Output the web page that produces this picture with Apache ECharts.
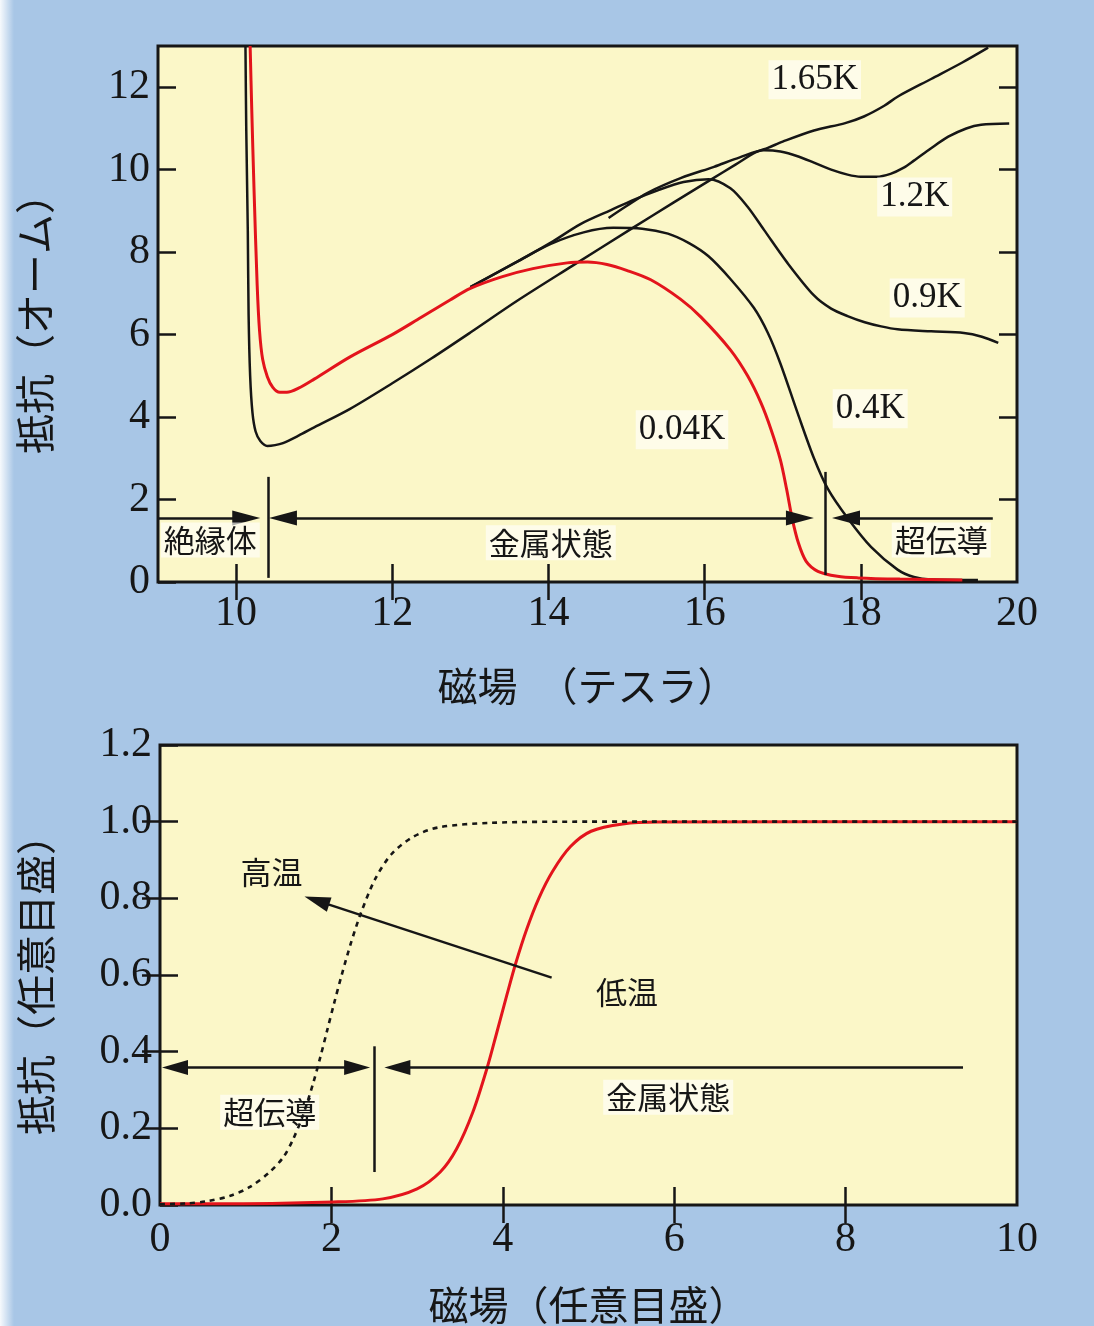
<!DOCTYPE html>
<html><head><meta charset="utf-8">
<script src="https://cdn.jsdelivr.net/npm/echarts@6/dist/echarts.min.js"></script>
<style>html,body{margin:0;padding:0;background:#a8c6e6;} #c{width:1094px;height:1326px;}</style>
</head><body><div id="c"></div>
<script>
// ---------- top chart (resistance vs field, Tesla) ----------
const topXTicks = [10, 12, 14, 16, 18, 20];
const topXInnerTicks = [10, 12, 14, 16, 18];
const topYTicks = [0, 2, 4, 6, 8, 10, 12];
const topYRightTicks = [2, 4, 6, 8, 10, 12];
const tempNames = ['0.04K', '0.4K', '0.9K', '1.2K', '1.65K'];

const r004K = [[10.18,13.0],[10.2,11.5],[10.23,9.5],[10.27,7.2],[10.3,6.1],[10.34,5.4],[10.4,4.98],[10.47,4.72],[10.56,4.6],[10.65,4.6],[10.8,4.7],[11.0,4.92],[11.46,5.46],[12.0,6.0],[12.32,6.36],[12.74,6.84],[13.0,7.12],[13.4,7.4],[13.8,7.6],[14.24,7.74],[14.5,7.76],[14.75,7.7],[15.0,7.56],[15.31,7.33],[15.69,6.86],[15.95,6.43],[16.33,5.63],[16.55,5.0],[16.72,4.35],[16.85,3.7],[16.97,2.96],[17.05,2.25],[17.12,1.55],[17.2,0.95],[17.3,0.5],[17.45,0.26],[17.7,0.14],[17.96,0.1],[18.5,0.07],[19.3,0.05]];
const r04K = [[13.0,7.15],[13.6,7.77],[14.03,8.2],[14.45,8.48],[14.83,8.59],[15.2,8.57],[15.53,8.45],[15.8,8.22],[16.05,7.9],[16.33,7.35],[16.63,6.65],[16.81,6.04],[16.97,5.3],[17.19,4.1],[17.4,3.0],[17.58,2.25],[17.83,1.55],[18.13,0.85],[18.47,0.3],[18.68,0.12],[18.9,0.06],[19.5,0.05]];
const r09K = [[13.0,7.15],[13.6,7.77],[14.03,8.23],[14.41,8.68],[14.8,9.02],[15.09,9.27],[15.4,9.5],[15.73,9.7],[16.05,9.77],[16.33,9.55],[16.55,9.1],[16.76,8.54],[17.06,7.74],[17.4,6.95],[17.62,6.63],[17.83,6.45],[18.05,6.3],[18.26,6.2],[18.47,6.13],[18.9,6.08],[19.32,6.04],[19.55,5.95],[19.76,5.8]];
const r12K = [[14.77,8.83],[15.0,9.12],[15.27,9.44],[15.7,9.8],[16.12,10.07],[16.45,10.3],[16.76,10.47],[16.97,10.44],[17.2,10.32],[17.4,10.17],[17.62,10.0],[17.83,9.88],[18.0,9.83],[18.2,9.83],[18.38,9.9],[18.55,10.05],[18.68,10.22],[18.9,10.52],[19.12,10.8],[19.35,11.0],[19.54,11.09],[19.9,11.12]];
const r165K = [[10.12,13.0],[10.13,11.0],[10.15,8.5],[10.16,6.5],[10.18,5.0],[10.21,4.1],[10.25,3.65],[10.31,3.42],[10.4,3.3],[10.5,3.32],[10.6,3.37],[10.8,3.55],[11.0,3.75],[11.46,4.2],[12.0,4.82],[12.5,5.42],[13.0,6.05],[13.6,6.82],[14.3,7.66],[15.09,8.6],[15.6,9.2],[16.08,9.76],[16.4,10.13],[16.65,10.42],[16.81,10.53],[17.0,10.68],[17.4,10.95],[17.8,11.13],[18.04,11.29],[18.3,11.55],[18.47,11.77],[18.9,12.2],[19.3,12.6],[19.63,12.96]];

// ---------- bottom chart (arbitrary units) ----------
const botXTicks = [0, 2, 4, 6, 8, 10];
const botYTicks = [0, 0.2, 0.4, 0.6, 0.8, 1.0, 1.2];
const highTemp = [[0,0.002],[0.3,0.004],[0.55,0.01],[0.82,0.024],[1.05,0.047],[1.28,0.086],[1.44,0.125],[1.55,0.17],[1.67,0.235],[1.79,0.32],[1.87,0.385],[1.95,0.455],[2.03,0.525],[2.12,0.6],[2.23,0.685],[2.35,0.765],[2.51,0.85],[2.7,0.915],[2.95,0.96],[3.25,0.985],[3.86,0.997],[5.0,1.0],[10.0,1.0]];
const lowTemp = [[0,0.003],[0.66,0.003],[2.02,0.008],[2.6,0.016],[3.0,0.042],[3.27,0.086],[3.46,0.146],[3.65,0.242],[3.82,0.36],[3.93,0.45],[4.05,0.55],[4.15,0.63],[4.28,0.72],[4.42,0.8],[4.58,0.87],[4.79,0.935],[5.03,0.975],[5.4,0.994],[5.81,0.999],[10.0,1.0]];

// ---------- styling ----------
const serif = "'Liberation Serif','DejaVu Serif',serif";
const cjk = "'Noto Sans CJK JP','Noto Sans CJK SC',sans-serif";
const ink = '#161616';
const red = '#e3141c';
const plotBg = '#fbf7c8';
const arrowPath = 'path://M5,0 L10,26 L0,26 Z';

function bottomAxis(grid, min, max, ticks, labels, name, gap, labelMargin) {
  return {
    type: 'value', gridIndex: grid, position: 'bottom', min: min, max: max,
    axisLine: {show: false}, splitLine: {show: false},
    axisTick: {show: true, inside: true, length: 18, customValues: ticks, lineStyle: {color: ink, width: 2.5}},
    axisLabel: {show: true, customValues: labels, fontFamily: serif, fontSize: 42, color: ink, margin: labelMargin},
    name: name, nameLocation: 'middle', nameGap: gap,
    nameTextStyle: {fontFamily: cjk, fontSize: 40, color: ink}
  };
}
function topAxis(grid, min, max, ticks) {
  return {
    type: 'value', gridIndex: grid, position: 'top', min: min, max: max,
    axisLine: {show: false}, splitLine: {show: false},
    axisTick: {show: true, inside: true, length: 18, customValues: ticks, lineStyle: {color: ink, width: 2.5}},
    axisLabel: {show: false}
  };
}
function leftAxis(grid, min, max, ticks, fmt, name, gap) {
  return {
    type: 'value', gridIndex: grid, position: 'left', min: min, max: max,
    axisLine: {show: false}, splitLine: {show: false},
    axisTick: {show: true, inside: true, length: 18, customValues: ticks, lineStyle: {color: ink, width: 2.5}},
    axisLabel: {show: true, customValues: ticks, fontFamily: serif, fontSize: 42, color: ink, margin: 8, formatter: fmt},
    name: name, nameLocation: 'middle', nameGap: gap,
    nameTextStyle: {fontFamily: cjk, fontSize: 40, color: ink}
  };
}
function rightAxis(grid, min, max, ticks) {
  return {
    type: 'value', gridIndex: grid, position: 'right', min: min, max: max,
    axisLine: {show: false}, splitLine: {show: false},
    axisTick: {show: true, inside: true, length: 18, customValues: ticks, lineStyle: {color: ink, width: 2.5}},
    axisLabel: {show: false}
  };
}
function curve(name, data, xi, yi, color, width, extra) {
  return Object.assign({
    type: 'line', name: name, data: data, xAxisIndex: xi, yAxisIndex: yi,
    showSymbol: false, symbol: 'none', smooth: 0.3, clip: true,
    lineStyle: {color: color, width: width}, itemStyle: {color: color}, z: 3
  }, extra || {});
}
function arrowLine(from, to, startSym, endSym, size) {
  return [
    {coord: from, symbol: startSym, symbolSize: size},
    {coord: to, symbol: endSym, symbolSize: size}
  ];
}
function textPoint(coord, text, font, size, boxed) {
  return {
    coord: coord, name: text, symbol: 'circle', symbolSize: 0,
    label: {show: true, position: 'inside', formatter: text, fontFamily: font, fontSize: size, color: ink,
      backgroundColor: boxed ? 'rgba(255,255,250,0.65)' : 'transparent', padding: [2, 3]}
  };
}

const topArrow = [15, 28];
const botArrow = [15, 26];
const lineSt = {color: ink, width: 2.5, type: 'solid'};

const option = {
  animation: false,
  backgroundColor: '#a8c6e6',
  grid: [
    {left: 158, top: 46, width: 859, height: 536, show: true, backgroundColor: plotBg, borderColor: ink, borderWidth: 3},
    {left: 160, top: 745, width: 857, height: 461, show: true, backgroundColor: plotBg, borderColor: ink, borderWidth: 3}
  ],
  xAxis: [
    bottomAxis(0, 9, 20, topXInnerTicks, topXTicks, '磁場　（テスラ）', 84, 11),
    topAxis(0, 9, 20, topXInnerTicks),
    bottomAxis(1, 0, 10, [2, 4, 6, 8], botXTicks, '磁場（任意目盛）', 80, 14),
    topAxis(1, 0, 10, [2, 4, 6, 8])
  ],
  yAxis: [
    leftAxis(0, 0, 13, topYTicks, v => String(v), '抵抗（オーム）', 103),
    rightAxis(0, 0, 13, topYRightTicks),
    leftAxis(1, 0, 1.2, botYTicks, v => v.toFixed(1), '抵抗（任意目盛）', 104),
    rightAxis(1, 0, 1.2, [0.2, 0.4, 0.6, 0.8, 1.0])
  ],
  series: [
    curve(tempNames[1], r04K, 0, 0, ink, 2.5, {
      markPoint: {data: [textPoint([18.12, 4.2], tempNames[1], serif, 35, true)]}
    }),
    curve(tempNames[2], r09K, 0, 0, ink, 2.5, {
      markPoint: {data: [textPoint([18.85, 6.89], tempNames[2], serif, 35, true)]}
    }),
    curve(tempNames[3], r12K, 0, 0, ink, 2.5, {
      markPoint: {data: [textPoint([18.69, 9.34], tempNames[3], serif, 35, true)]}
    }),
    curve(tempNames[4], r165K, 0, 0, ink, 2.5, {
      markPoint: {data: [textPoint([17.41, 12.18], tempNames[4], serif, 35, true)]},
      markLine: {
        silent: true, lineStyle: lineSt, label: {show: false},
        data: [
          arrowLine([9.0, 1.55], [10.13, 1.55], 'none', arrowPath, topArrow),
          arrowLine([10.6, 1.55], [17.22, 1.55], arrowPath, arrowPath, topArrow),
          arrowLine([17.81, 1.55], [19.69, 1.55], arrowPath, 'none', topArrow),
          arrowLine([10.41, 2.55], [10.41, 0.1], 'none', 'none', topArrow),
          arrowLine([17.54, 2.67], [17.54, 0.17], 'none', 'none', topArrow)
        ]
      }
    }),
    curve(tempNames[0], r004K, 0, 0, red, 3, {
      z: 4,
      markPoint: {data: [
        textPoint([15.71, 3.69], tempNames[0], serif, 35, true),
        textPoint([9.67, 1.02], '絶縁体', cjk, 31, true),
        textPoint([14.03, 0.95], '金属状態', cjk, 31, true),
        textPoint([19.03, 1.02], '超伝導', cjk, 31, true)
      ]}
    }),
    curve('低温', lowTemp, 2, 2, red, 3, {
      z: 3,
      markPoint: {data: [
        textPoint([1.3, 0.867], '高温', cjk, 31, false),
        textPoint([5.45, 0.554], '低温', cjk, 31, false),
        textPoint([1.28, 0.242], '超伝導', cjk, 31, true),
        textPoint([5.93, 0.281], '金属状態', cjk, 31, true)
      ]},
      markLine: {
        silent: true, lineStyle: lineSt, label: {show: false},
        data: [
          arrowLine([0.175, 0.359], [2.3, 0.359], arrowPath, arrowPath, botArrow),
          arrowLine([2.77, 0.359], [9.37, 0.359], arrowPath, 'none', botArrow),
          arrowLine([2.5, 0.414], [2.5, 0.086], 'none', 'none', botArrow),
          arrowLine([4.57, 0.593], [1.83, 0.794], 'none', arrowPath, botArrow)
        ]
      }
    }),
    curve('高温', highTemp, 2, 2, ink, 2.6, {
      z: 5, lineStyle: {color: ink, width: 2.6, type: [5, 5]}
    })
  ],
  graphic: [
    {type: 'rect', left: 0, top: 0, z: -1, shape: {width: 14, height: 1326},
      style: {fill: new echarts.graphic.LinearGradient(0, 0, 1, 0, [{offset: 0, color: 'rgba(255,255,255,0.9)'}, {offset: 1, color: 'rgba(255,255,255,0)'}])}}
  ]
};

const chart = echarts.init(document.getElementById('c'), null, {renderer: 'canvas'});
chart.setOption(option);
</script>
</body></html>
